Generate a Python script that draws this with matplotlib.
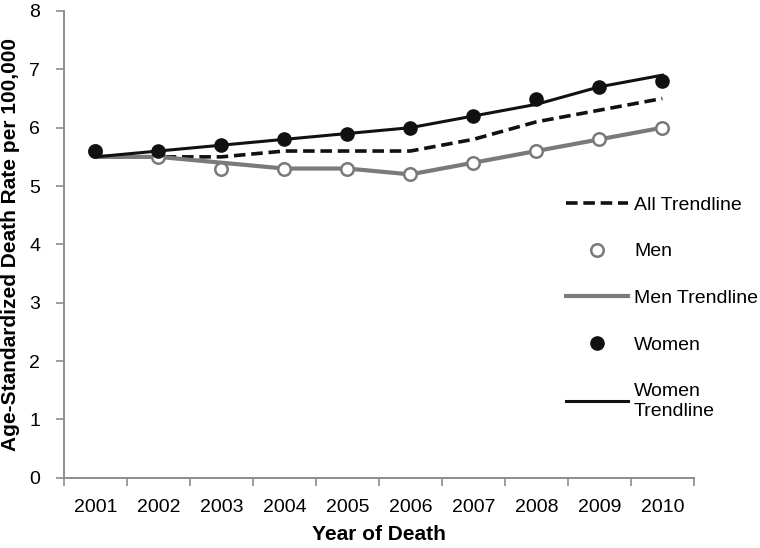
import matplotlib
matplotlib.use("Agg")
import matplotlib.pyplot as plt
from matplotlib.lines import Line2D
from matplotlib.ticker import FixedLocator

plt.rcParams['font.family'] = ['Liberation Sans', 'DejaVu Sans']

# --- data ---
years = [2001, 2002, 2003, 2004, 2005, 2006, 2007, 2008, 2009, 2010]
all_trend = [5.5, 5.5, 5.5, 5.6, 5.6, 5.6, 5.8, 6.1, 6.3, 6.5]
men = [5.6, 5.5, 5.3, 5.3, 5.3, 5.2, 5.4, 5.6, 5.8, 6.0]
men_trend = [5.5, 5.5, 5.4, 5.3, 5.3, 5.2, 5.4, 5.6, 5.8, 6.0]
women = [5.6, 5.6, 5.7, 5.8, 5.9, 6.0, 6.2, 6.5, 6.7, 6.8]
women_trend = [5.5, 5.6, 5.7, 5.8, 5.9, 6.0, 6.2, 6.4, 6.7, 6.9]

GRAY = "#7a7a7a"
AXIS = "#8c8c8c"
FS = 14

fig = plt.figure(figsize=(7.6, 5.48), dpi=100)
ax = fig.add_axes([0.084, 0.128, 0.829, 0.852])

ax.plot(years, all_trend, color="#111111", lw=2.6, ls=(0, (3.2, 1.6)), zorder=2)
ax.plot(years, men, ls="none", marker="o", ms=9, mfc="white", mec=GRAY, mew=1.8, zorder=3)
ax.plot(years, men_trend, color=GRAY, lw=3.0, zorder=2)
ax.plot(years, women, ls="none", marker="o", ms=9.5, mfc="#111111", mec="#111111", zorder=4)
ax.plot(years, women_trend, color="#111111", lw=2.2, zorder=4)

ax.set_xlim(years[0] - 0.5, years[-1] + 0.5)
ax.set_ylim(0, 8)
ax.set_yticks(range(0, 9))

# category axis: tick marks between categories, labels at categories
ax.xaxis.set_major_locator(FixedLocator([y - 0.5 for y in years] + [years[-1] + 0.5]))
ax.xaxis.set_minor_locator(FixedLocator(years))
ax.set_xticklabels([])
ax.set_xticklabels([str(y) for y in years], minor=True)
ax.tick_params(axis="x", which="major", length=6, width=1.2, color=AXIS, direction="out")
ax.tick_params(axis="x", which="minor", length=0, pad=15, labelsize=FS)
ax.tick_params(axis="y", length=6, width=1.2, color=AXIS, direction="out", pad=11, labelsize=FS)

for s in ["top", "right"]:
    ax.spines[s].set_visible(False)
for s in ["left", "bottom"]:
    ax.spines[s].set_color(AXIS)
    ax.spines[s].set_linewidth(1.4)

ax.set_xlabel("Year of Death", fontsize=15, fontweight="bold", labelpad=7)
ax.set_ylabel("Age-Standardized Death Rate per 100,000", fontsize=15, fontweight="bold", labelpad=7)

handles = [
    Line2D([], [], color="#111111", lw=2.6, ls=(0, (3.2, 1.6))),
    Line2D([], [], ls="none", marker="o", ms=9, mfc="white", mec=GRAY, mew=1.8),
    Line2D([], [], color=GRAY, lw=3.0),
    Line2D([], [], ls="none", marker="o", ms=9.5, mfc="#111111", mec="#111111"),
    Line2D([], [], color="#111111", lw=2.2),
]
labels = ["All Trendline", "Men", "Men Trendline", "Women", "Women\nTrendline"]
fig.legend(handles, labels, loc="upper left", bbox_to_anchor=(566 / 760, 1 - 196 / 548),
           frameon=False, fontsize=FS, handlelength=3.2, handletextpad=0.3,
           labelspacing=1.5, borderpad=0, borderaxespad=0)

fig.savefig("out.png", dpi=100)
